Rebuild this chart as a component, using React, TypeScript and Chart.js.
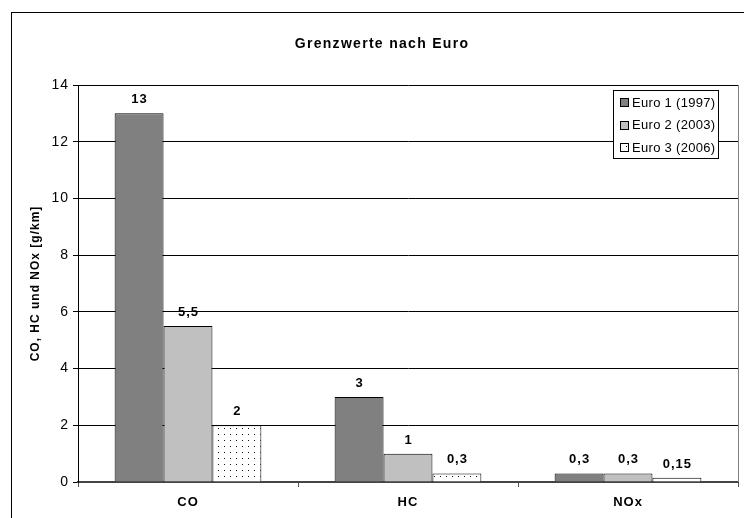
import { useEffect, useRef } from 'react';
import { Chart, registerables } from 'chart.js';

Chart.register(...registerables);

// Emission limits (g/km) per pollutant and Euro stage
const categories = ['CO', 'HC', 'NOx'];
const euro1 = [13, 3, 0.3];
const euro2 = [5.5, 1, 0.3];
const euro3 = [2, 0.3, 0.15];
const seriesLabels = ['Euro 1 (1997)', 'Euro 2 (2003)', 'Euro 3 (2006)'];
const yTicks = [0, 2, 4, 6, 8, 10, 12, 14];
const chartTitle = 'Grenzwerte nach Euro';
const yTitle = 'CO, HC und NOx [g/km]';

const FONT = '"Liberation Sans", Arial, Helvetica, sans-serif';
const DARK = '#808080';
const LIGHT = '#c0c0c0';

function makeDots(): CanvasPattern | string {
  const c = document.createElement('canvas');
  c.width = 6;
  c.height = 6;
  const g = c.getContext('2d');
  if (!g) return '#fff';
  g.fillStyle = '#fff';
  g.fillRect(0, 0, 6, 6);
  g.fillStyle = '#111';
  g.fillRect(2, 2, 1, 1);
  return g.createPattern(c, 'repeat') || '#fff';
}

const fmt = (v: number) => String(v).replace('.', ',');

export default function App() {
  const ref = useRef<HTMLCanvasElement | null>(null);

  useEffect(() => {
    const canvas = ref.current;
    if (!canvas) return;
    const dots = makeDots();
    const fills = [DARK, LIGHT, dots];

    const decor = {
      id: 'decor',
      beforeLayout(chart: any) {
        chart.ctx.letterSpacing = '1px';
      },
      beforeDraw(chart: any) {
        const ctx = chart.ctx;
        ctx.letterSpacing = '1px';
        ctx.save();
        ctx.fillStyle = '#fff';
        ctx.fillRect(0, 0, chart.width, chart.height);
        ctx.strokeStyle = '#000';
        ctx.lineWidth = 1;
        ctx.strokeRect(11.5, 12.5, chart.width + 40, chart.height + 40);
        ctx.restore();
      },
      afterDatasetsDraw(chart: any) {
        const ctx = chart.ctx;
        ctx.save();
        ctx.font = `bold 13px ${FONT}`;
        ctx.fillStyle = '#000';
        ctx.textAlign = 'center';
        ctx.textBaseline = 'alphabetic';
        chart.data.datasets.forEach((ds: any, di: number) => {
          const meta = chart.getDatasetMeta(di);
          meta.data.forEach((el: any, i: number) => {
            ctx.fillText(fmt(ds.data[i]), el.x + 0.5, el.y - 10);
          });
        });
        ctx.restore();
      },
      afterDraw(chart: any) {
        const ctx = chart.ctx;
        const area = chart.chartArea;
        ctx.save();
        // plot area right edge
        ctx.strokeStyle = '#808080';
        ctx.lineWidth = 1;
        ctx.beginPath();
        ctx.moveTo(Math.round(area.right) + 0.5, area.top);
        ctx.lineTo(Math.round(area.right) + 0.5, area.bottom);
        ctx.stroke();

        // title
        ctx.font = `bold 14px ${FONT}`;
        ctx.letterSpacing = '1.3px';
        ctx.fillStyle = '#000';
        ctx.textAlign = 'center';
        ctx.textBaseline = 'alphabetic';
        ctx.fillText(chartTitle, 382, 48);

        // legend
        const bx = 613.5, by = 90.5, bw = 105, bh = 68;
        ctx.fillStyle = '#fff';
        ctx.fillRect(bx, by, bw, bh);
        ctx.strokeStyle = '#000';
        ctx.strokeRect(bx, by, bw, bh);
        ctx.font = `13px ${FONT}`;
        ctx.letterSpacing = '0.3px';
        ctx.textAlign = 'left';
        ctx.textBaseline = 'middle';
        chart.data.datasets.forEach((ds: any, di: number) => {
          const cy = 103 + di * 22.5;
          ctx.fillStyle = ds.backgroundColor;
          ctx.fillRect(621, Math.round(cy) - 4, 7, 7);
          ctx.strokeStyle = '#000';
          ctx.strokeRect(620.5, Math.round(cy) - 4.5, 8, 8);
          ctx.fillStyle = '#000';
          ctx.fillText(ds.label, 632, cy);
        });
        ctx.restore();
      },
    };

    const chart = new Chart(canvas, {
      type: 'bar',
      data: {
        labels: categories,
        datasets: [euro1, euro2, euro3].map((d, i) => ({
          label: seriesLabels[i],
          data: d,
          backgroundColor: fills[i] as any,
          borderColor: '#000',
          borderWidth: 1,
          categoryPercentage: 0.667,
          barPercentage: 1,
        })),
      },
      options: {
        responsive: false,
        animation: false,
        devicePixelRatio: 1,
        layout: { padding: { top: 85, right: 6, bottom: 0, left: 0 } },
        plugins: {
          legend: { display: false },
          tooltip: { enabled: false },
          title: { display: false },
        },
        scales: {
          x: {
            afterFit(scale: any) {
              scale.height = 36;
            },
            grid: {
              display: true,
              drawOnChartArea: false,
              drawTicks: true,
              tickLength: 5,
              color: '#555',
              offset: true,
            },
            border: { display: true, color: '#444', width: 2 },
            ticks: {
              color: '#000',
              padding: 8,
              font: { family: FONT, size: 13, weight: 'bold' },
            },
          },
          y: {
            min: yTicks[0],
            max: yTicks[yTicks.length - 1],
            afterFit(scale: any) {
              scale.width = 78;
            },
            afterBuildTicks(scale: any) {
              scale.ticks = yTicks.map((v) => ({ value: v }));
            },
            grid: {
              color: '#000',
              lineWidth: 1,
              tickLength: 5,
            },
            border: { display: true, color: '#000', width: 1 },
            ticks: {
              color: '#000',
              padding: 4,
              font: { family: FONT, size: 14 },
              callback: (v: any) => fmt(Number(v)),
            },
            title: {
              display: true,
              text: yTitle,
              color: '#000',
              font: { family: FONT, size: 12, weight: 'bold' },
              padding: { top: 28, bottom: 0 },
            },
          },
        },
      },
      plugins: [decor],
    } as any);

    return () => chart.destroy();
  }, []);

  return (
    <div style={{ position: 'fixed', left: 0, top: 0, width: 744, height: 518, background: '#fff' }}>
      <canvas ref={ref} width={744} height={518} />
    </div>
  );
}
